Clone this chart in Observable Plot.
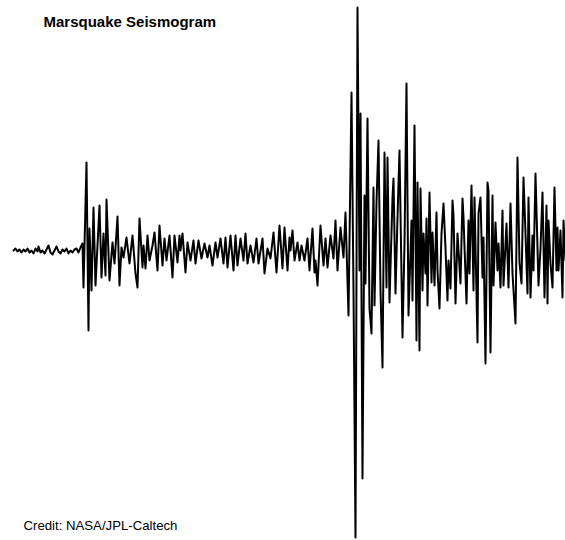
<!DOCTYPE html>
<html>
<head>
<meta charset="utf-8">
<script src="https://cdn.jsdelivr.net/npm/d3@7"></script>
<script src="https://cdn.jsdelivr.net/npm/@observablehq/plot@0.6"></script>
<style>
  html, body { margin: 0; padding: 0; background: #fff; }
  #chart { width: 565px; height: 540px; }
</style>
</head>
<body>
<div id="chart"></div>
<script>
const title = "Marsquake Seismogram";
const credit = "Credit: NASA/JPL-Caltech";

// time (arbitrary units) and ground-motion amplitude (arbitrary units)
const time = [
  13,15,17,19,21,23,25,27,29,31,33,35,37,38,40,42,44,46,48,50,52,54,56,58,60,62,64,66,68,70,72,74,76,78,80,82,
  83,86,88,89,91,93,95,99,101,103,105,106,109,112,114,117,119,121,123,126,129,132,135,137,139,142,143,145,147,149,
  152,154,157,159,162,164,166,169,172,174,177,179,180,182,185,187,190,193,195,198,201,204,207,209,212,215,217,220,
  223,225,227,230,233,235,237,240,243,245,247,250,253,256,258,262,264,267,270,273,276,279,282,284,287,289,290,292,
  294,297,299,301,304,307,309,312,314,315,317,320,323,325,327,330,333,335,337,340,343,345,348,351,353,355,357,359,
  360,362,364,365,367,369,371,373,374,376,378,380,382,384,386,387,389,392,393,395,397,399,402,404,406,408,411,412,
  414,416,417,419,420,422,423,425,426,427,429,431,432,434,436,437,439,441,443,445,447,448,450,452,453,455,457,460,
  462,463,466,468,469,471,473,474,477,478,480,482,483,485,487,488,490,492,493,495,497,498,500,502,503,506,508,510,
  512,515,517,519,521,523,525,527,528,530,532,533,535,538,540,542,544,546,547,548,550,552,554,556,557,558,560,562,
  563,565
];
const amplitude = [
  0,2,-1,1,-2,1,-1,2,-2,0,-3,2,-1,4,-2,0,-3,1,5,-2,-4,0,4,-1,-3,1,-1,2,-3,0,-2,1,2,-2,3,7,
  -37,88,-80,22,-40,43,-35,45,-27,17,-25,51,-30,8,-13,34,-35,3,-7,13,-13,15,-23,-37,32,-17,5,-18,15,-10,
  5,18,-20,25,-15,12,-10,15,-27,15,-12,15,0,17,-22,8,-10,10,-13,10,-8,7,-7,5,-15,8,-7,12,
  -13,13,-17,15,-20,15,-15,12,-10,17,-13,5,-12,12,-13,12,-23,2,-8,18,-22,25,-18,23,-20,13,0,20,
  -10,8,-10,5,-10,12,-20,22,-22,-10,-35,25,-15,12,-17,15,-8,30,-20,23,-7,38,-65,158,-40,-287,243,-20,
  137,-228,55,-33,132,-58,-83,63,-55,48,110,-40,-117,98,-37,93,-52,53,72,-43,33,100,-87,7,167,-65,30,-50,
  125,-90,68,-100,62,-40,17,-23,32,-55,58,-32,18,-35,38,-20,-58,17,47,2,-50,-10,-38,50,35,-53,17,-33,
  52,33,-53,30,-23,65,-40,53,-92,37,53,-27,13,-113,68,60,-102,55,-35,28,-20,7,-37,40,-35,27,-37,47,
  -23,-73,93,-12,-33,73,17,-43,53,-47,15,-20,77,-35,2,58,-47,45,-53,30,-13,-37,63,-20,23,-20,20,-47,
  30,-10
];

const data = time.map((t, i) => ({t, a: amplitude[i]}));

const font = "'Liberation Sans', Arial, Helvetica, sans-serif";

const chart = Plot.plot({
  width: 565,
  height: 540,
  marginTop: 0,
  marginBottom: 0,
  marginLeft: 13,
  marginRight: 0,
  style: {background: "#fff", fontFamily: font},
  x: {domain: [13, 565], axis: null},
  y: {domain: [-290, 250], axis: null},
  marks: [
    Plot.line(data, {x: "t", y: "a", stroke: "#000", strokeWidth: 2, strokeLinejoin: "round"}),
    Plot.text([title], {
      frameAnchor: "top-left", dx: 30, dy: 22, text: d => d,
      textAnchor: "start", lineAnchor: "middle",
      fontSize: 15, fontWeight: "bold", fill: "#000"
    }),
    Plot.text([credit], {
      frameAnchor: "bottom-left", dx: 10, dy: -15, text: d => d,
      textAnchor: "start", lineAnchor: "middle",
      fontSize: 13.2, fill: "#000"
    })
  ]
});
document.getElementById("chart").appendChild(chart);
</script>
</body>
</html>
